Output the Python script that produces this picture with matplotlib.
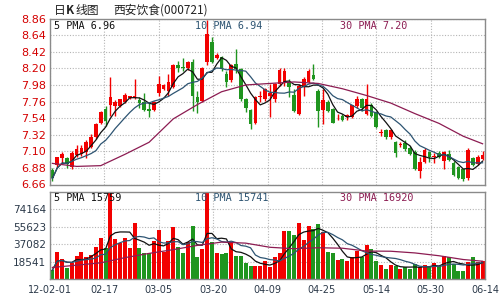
import numpy as np
import pandas as pd
import matplotlib
matplotlib.use("Agg")
import matplotlib.pyplot as plt

plt.rcParams['font.family'] = ['DejaVu Sans', 'Noto Sans CJK SC']

# daily K data, 2012-02-01 .. 2012-06-14
opens = [6.85, 6.92, 7.01, 7.01, 6.89, 7.05, 7.07, 7.09, 7.16, 7.29,
         7.48, 7.66, 7.71, 7.70, 7.70, 7.76, 7.81, 7.81, 7.78, 7.76,
         7.66, 7.65, 7.88, 7.92, 7.90, 7.95, 8.25, 8.22, 8.20, 8.29,
         7.82, 7.77, 8.28, 8.55, 8.34, 8.35, 8.13, 8.04, 8.26, 8.19,
         7.80, 7.65, 7.47, 7.82, 7.80, 7.84, 7.80, 7.99, 8.02, 8.02,
         7.85, 7.59, 7.95, 8.02, 8.11, 7.90, 7.65, 7.76, 7.66, 7.55,
         7.57, 7.55, 7.55, 7.70, 7.80, 7.59, 7.71, 7.62, 7.34, 7.38,
         7.29, 7.22, 7.19, 7.21, 7.15, 7.09, 6.84, 6.96, 7.09, 7.03,
         7.08, 6.97, 7.07, 6.95, 6.89, 6.86, 6.74, 7.01, 6.93, 7.00]
highs = [6.88, 7.03, 7.09, 7.03, 7.10, 7.19, 7.19, 7.25, 7.33, 7.48,
         7.64, 7.70, 8.09, 7.78, 7.80, 7.88, 7.84, 8.06, 7.82, 7.88,
         7.76, 7.77, 8.10, 7.99, 8.13, 8.26, 8.30, 8.34, 8.30, 8.32,
         7.90, 8.22, 8.84, 8.62, 8.40, 8.37, 8.16, 8.26, 8.46, 8.21,
         7.81, 7.66, 7.84, 7.90, 7.94, 7.99, 8.01, 8.21, 8.20, 8.06,
         7.92, 7.99, 8.08, 8.19, 8.26, 7.92, 7.92, 7.78, 7.68, 7.59,
         7.59, 7.60, 7.72, 7.84, 7.81, 7.99, 7.74, 7.63, 7.40, 7.40,
         7.40, 7.24, 7.23, 7.25, 7.17, 7.12, 7.03, 7.14, 7.11, 7.08,
         7.11, 7.11, 7.12, 6.97, 6.91, 6.87, 7.15, 7.03, 7.05, 7.11]
lows = [6.71, 6.89, 6.93, 6.88, 6.87, 7.02, 7.04, 7.01, 7.14, 7.27,
        7.46, 7.43, 7.57, 7.57, 7.69, 7.74, 7.79, 7.80, 7.68, 7.64,
        7.56, 7.64, 7.84, 7.91, 7.84, 7.94, 8.15, 8.16, 8.18, 7.64,
        7.61, 7.76, 8.24, 8.27, 8.33, 8.17, 7.95, 8.02, 8.14, 7.77,
        7.62, 7.40, 7.46, 7.75, 7.77, 7.55, 7.75, 7.97, 7.97, 7.82,
        7.62, 7.58, 7.84, 8.01, 8.04, 7.42, 7.46, 7.62, 7.47, 7.52,
        7.50, 7.52, 7.54, 7.67, 7.64, 7.58, 7.55, 7.41, 7.30, 7.27,
        7.27, 7.03, 7.16, 7.11, 7.05, 6.85, 6.75, 6.94, 6.96, 6.95,
        7.01, 6.87, 6.97, 6.77, 6.73, 6.71, 6.72, 6.90, 6.92, 6.99]
closes = [6.74, 7.02, 7.07, 6.93, 7.08, 7.13, 7.14, 7.23, 7.29, 7.46,
          7.62, 7.50, 7.82, 7.76, 7.79, 7.85, 7.83, 7.83, 7.74, 7.65,
          7.64, 7.75, 7.99, 7.98, 8.02, 8.25, 8.20, 8.20, 8.28, 7.84,
          7.76, 8.20, 8.65, 8.29, 8.38, 8.19, 8.02, 8.25, 8.19, 7.79,
          7.67, 7.46, 7.82, 7.84, 7.92, 7.87, 7.99, 8.18, 8.17, 7.95,
          7.64, 7.97, 8.06, 8.16, 8.06, 7.64, 7.78, 7.64, 7.48, 7.56,
          7.51, 7.58, 7.71, 7.80, 7.67, 7.79, 7.57, 7.42, 7.35, 7.29,
          7.38, 7.08, 7.20, 7.13, 7.07, 6.87, 6.96, 7.12, 7.03, 7.04,
          7.03, 7.09, 6.98, 6.79, 6.74, 6.73, 7.12, 6.92, 7.03, 7.05]
volumes = [9800, 29000, 21300, 12500, 17000, 25000, 28700, 23500, 26000, 33900,
           44100, 33500, 93000, 42700, 38100, 44000, 32800, 59700, 33000, 27800,
           27500, 41000, 52300, 28800, 40200, 55300, 33900, 28400, 39900, 56200,
           24000, 32300, 91200, 39900, 28300, 26500, 28300, 38200, 25100, 25100,
           17000, 14600, 14600, 13700, 19700, 13000, 23600, 27800, 51500, 51500,
           46600, 60000, 41300, 56800, 53600, 58600, 49700, 28900, 27800, 20700,
           21800, 19700, 23600, 29600, 23600, 36700, 32000, 19700, 14700, 11200,
           15400, 14400, 11200, 12600, 11200, 16100, 12600, 14700, 12600, 17200,
           13700, 24300, 23200, 16100, 8400, 9100, 18300, 23600, 18300, 19700]

# 30-day averages include January data that is off the chart
ma30_idx = [0, 5, 10, 15, 20, 25, 30, 35, 40, 45, 50, 55, 60, 65, 70, 75, 80, 85, 89]
ma30_price = [6.94, 6.90, 6.91, 7.06, 7.22, 7.53, 7.72, 7.89, 7.98, 8.00,
              8.02, 8.00, 7.93, 7.84, 7.74, 7.60, 7.47, 7.30, 7.20]
ma30_vol = [12600, 15000, 17500, 23000, 27500, 31500, 36000, 39500, 38400, 34000,
            32500, 33500, 33000, 30000, 29800, 28000, 25000, 21000, 19200]

date_labels = ['12-02-01', '02-17', '03-05', '03-20', '04-09', '04-25', '05-14', '05-30', '06-14']
price_ticks = [6.66, 6.88, 7.10, 7.32, 7.54, 7.76, 7.98, 8.20, 8.42, 8.64, 8.86]
vol_ticks = [18541, 37082, 55623, 74164]

RED = '#f20000'
GREEN = '#1f951f'
C5 = '#111111'
C10 = '#2d5472'
C30 = '#8c1c52'

n = len(closes)
x = np.arange(n)
o = np.array(opens)
c = np.array(closes)
up = c >= o
colors = np.where(up, RED, GREEN)

ma5 = pd.Series(closes).rolling(5, min_periods=1).mean()
ma10 = pd.Series(closes).rolling(10, min_periods=1).mean()
vma5 = pd.Series(volumes).rolling(5, min_periods=1).mean()
vma10 = pd.Series(volumes).rolling(10, min_periods=1).mean()

fig = plt.figure(figsize=(5, 3), dpi=100)
ax = fig.add_axes([0.1, 0.385, 0.87, 0.553])
axv = fig.add_axes([0.1, 0.069, 0.87, 0.291])

xgrid = np.linspace(-0.5, n - 0.5, len(date_labels))

for a in (ax, axv):
    a.set_xlim(-0.5, n - 0.5)
    for s in a.spines.values():
        s.set_color('#8a8a8a')
        s.set_linewidth(1)
    a.set_xticks(xgrid)
    a.tick_params(length=0)
    a.grid(True, color='#b5b5b5', linestyle=(0, (1, 1.5)), linewidth=0.8)
    a.set_axisbelow(True)

# candles
ax.vlines(x, lows, highs, color=colors, linewidth=1, zorder=2)
ax.bar(x, np.maximum(np.abs(c - o), 0.008), bottom=np.minimum(o, c),
       width=0.78, color=colors, zorder=2)
ax.plot(x, ma5, color=C5, linewidth=0.9, zorder=3)
ax.plot(x, ma10, color=C10, linewidth=0.9, zorder=3)
ax.plot(ma30_idx, ma30_price, color=C30, linewidth=0.9, zorder=3)
ax.set_ylim(6.66, 8.86)
ax.set_yticks(price_ticks)
ax.set_yticklabels(['%.2f' % v for v in price_ticks], color='#d40000', fontsize=8)
ax.set_xticklabels([])
ax.tick_params(axis='y', pad=3)

# volume
axv.bar(x, volumes, width=0.84, color=colors, zorder=2)
axv.plot(x, vma5, color=C5, linewidth=0.9, zorder=3)
axv.plot(x, vma10, color=C10, linewidth=0.9, zorder=3)
axv.plot(ma30_idx, ma30_vol, color=C30, linewidth=0.9, zorder=3)
axv.set_ylim(0, 5 * 18541)
axv.set_yticks(vol_ticks)
axv.set_yticklabels([str(v) for v in vol_ticks], color='#2c3a4a', fontsize=7.5)
axv.set_xticklabels(date_labels, color='#2c3a4a', fontsize=7)
axv.tick_params(axis='y', pad=3)
axv.tick_params(axis='x', pad=4)

mono = 'DejaVu Sans Mono'
for a, vals in ((ax, ['6.96', '6.94', '7.20']), (axv, ['15759', '15741', '16920'])):
    a.text(0.01, 0.985, '5 PMA ' + vals[0], transform=a.transAxes, ha='left', va='top',
           family=mono, fontsize=7.3, color=C5, zorder=5)
    a.text(0.333, 0.985, '10 PMA ' + vals[1], transform=a.transAxes, ha='left', va='top',
           family=mono, fontsize=7.3, color=C10, zorder=5)
    a.text(0.667, 0.985, '30 PMA ' + vals[2], transform=a.transAxes, ha='left', va='top',
           family=mono, fontsize=7.3, color=C30, zorder=5)

cjk = ['Noto Sans CJK SC', 'DejaVu Sans']
fig.text(0.108, 0.965, '日', fontsize=8.5, va='center', color='#222222', family=cjk)
fig.text(0.132, 0.965, 'K', fontsize=8.5, va='center', color='#222222', family=cjk,
         weight='bold')
fig.text(0.151, 0.965, '线图', fontsize=8.5, va='center', color='#222222', family=cjk)
fig.text(0.226, 0.965, '西安饮食(000721)', fontsize=8.5, va='center', color='#222222',
         family=cjk)

fig.savefig('out.png', dpi=100)
